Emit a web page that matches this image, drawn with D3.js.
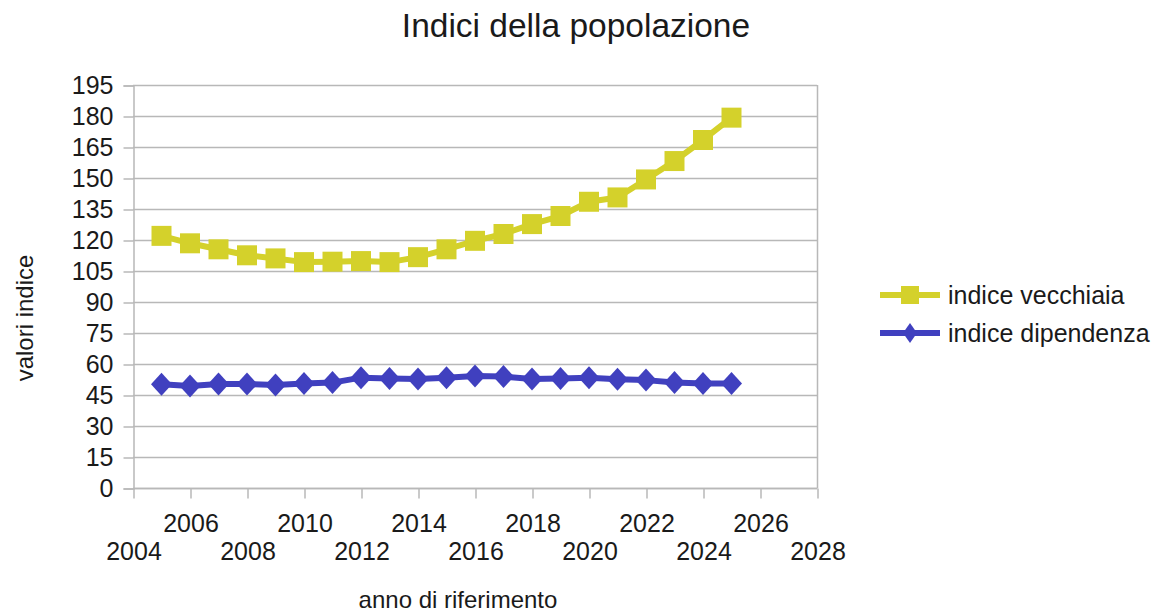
<!DOCTYPE html>
<html>
<head>
<meta charset="utf-8">
<script src="https://cdn.jsdelivr.net/npm/d3@7"></script>
<style>
  html, body { margin: 0; padding: 0; background: #fff; }
  svg { display: block; font-family: "Liberation Sans", Arial, sans-serif; }
</style>
</head>
<body>
<div id="chart"></div>
<script>
// Indici della popolazione: vecchiaia vs dipendenza, 2005-2025.

const years = d3.range(2005, 2026);
const vecchiaia = [122, 118.4, 115.5, 112.6, 111.1, 109.3, 109.5, 109.8, 109.3, 111.7,
  115.5, 119.6, 122.9, 127.7, 131.6, 138.5, 140.6, 149.3, 158.2, 168.4, 179.2];
const dipendenza = [50.2, 49.3, 50.3, 50.3, 49.8, 50.6, 51, 53.4, 53, 52.8,
  53.4, 54.2, 53.9, 52.7, 53, 53.4, 52.6, 52.2, 51, 50.6, 50.6];
const xTicks = d3.range(2004, 2029, 2);
const yTicks = d3.range(0, 196, 15);

const series = [
  { name: "indice vecchiaia", values: vecchiaia, color: "#d4d12b", marker: "square" },
  { name: "indice dipendenza", values: dipendenza, color: "#4040bf", marker: "diamond" },
];

const W = 1164, H = 613;
const M = { top: 85, right: 347, bottom: 125, left: 133 };
const GRID = "#b8b8b8";
const INK = "#1a1a1a";
const FONT = "25px";

const x = d3.scaleLinear().domain([2004, 2028]).range([M.left, W - M.right]);
const y = d3.scaleLinear().domain([0, 195]).range([H - M.bottom, M.top]);

const svg = d3.select("#chart").append("svg").attr("width", W).attr("height", H);

// marker shapes
const square = (s) => `M${-s / 2},${-s / 2}h${s}v${s}h${-s}Z`;
const diamond = (w, h) => `M0,${-h / 2}L${w / 2},0L0,${h / 2}L${-w / 2},0Z`;
const markerPath = (m, legend) =>
  m === "square" ? square(legend ? 18 : 20) : legend ? diamond(14, 20) : diamond(21, 23);

// horizontal grid
svg.append("g")
  .selectAll("line")
  .data(yTicks)
  .join("line")
  .attr("x1", M.left).attr("x2", W - M.right)
  .attr("y1", (d) => y(d) + 0.5).attr("y2", (d) => y(d) + 0.5)
  .attr("stroke", GRID).attr("stroke-width", 1.5);

// right border
svg.append("line")
  .attr("x1", W - M.right + 0.5).attr("x2", W - M.right + 0.5)
  .attr("y1", M.top).attr("y2", H - M.bottom)
  .attr("stroke", GRID).attr("stroke-width", 1.5);

// y axis
svg.append("g")
  .attr("transform", `translate(${M.left + 0.5},0.5)`)
  .call(d3.axisLeft(y).tickValues(yTicks).tickSize(10).tickPadding(10))
  .call((g) => g.select(".domain").attr("stroke", GRID).attr("stroke-width", 1.5))
  .call((g) => g.selectAll(".tick line").attr("stroke", GRID).attr("stroke-width", 1.5))
  .call((g) => g.selectAll(".tick text")
    .attr("fill", INK).style("font-size", FONT).style("font-family", "Liberation Sans, Arial, sans-serif"));

// x axis with staggered labels
svg.append("g")
  .attr("transform", `translate(0.5,${H - M.bottom + 0.5})`)
  .call(d3.axisBottom(x).tickValues(xTicks).tickFormat(d3.format("d")).tickSize(10))
  .call((g) => g.select(".domain").attr("stroke", GRID).attr("stroke-width", 1.5).attr("d", `M${M.left},0H${W - M.right}`))
  .call((g) => g.selectAll(".tick line").attr("stroke", GRID).attr("stroke-width", 1.5))
  .call((g) => g.selectAll(".tick text")
    .attr("fill", INK).style("font-size", FONT).style("font-family", "Liberation Sans, Arial, sans-serif")
    .attr("dy", null)
    .attr("y", (d, i) => (i % 2 === 0 ? 71 : 43)));

// lines and markers
const line = d3.line().x((d, i) => x(years[i])).y((d) => y(d));

series.forEach((s) => {
  svg.append("path")
    .datum(s.values)
    .attr("d", line)
    .attr("fill", "none")
    .attr("stroke", s.color)
    .attr("stroke-width", 6)
    .attr("stroke-linejoin", "round");

  svg.append("g")
    .selectAll("path")
    .data(s.values)
    .join("path")
    .attr("transform", (d, i) => `translate(${x(years[i])},${y(d)})`)
    .attr("d", markerPath(s.marker, false))
    .attr("fill", s.color);
});

// legend
const legend = svg.append("g").attr("transform", "translate(880,295)");
series.forEach((s, i) => {
  const g = legend.append("g").attr("transform", `translate(0,${i * 38})`);
  g.append("line").attr("x1", 0).attr("x2", 60).attr("y1", 0).attr("y2", 0)
    .attr("stroke", s.color).attr("stroke-width", 6);
  g.append("path")
    .attr("transform", "translate(30,0)")
    .attr("d", markerPath(s.marker, true))
    .attr("fill", s.color);
  g.append("text").attr("x", 68).attr("y", 0).attr("dy", "0.35em")
    .attr("fill", INK).style("font-size", FONT).text(s.name);
});

// titles
svg.append("text")
  .attr("x", 576).attr("y", 37)
  .attr("text-anchor", "middle")
  .attr("fill", INK).style("font-size", "33.5px")
  .text("Indici della popolazione");

svg.append("text")
  .attr("transform", "translate(33,318) rotate(-90)")
  .attr("text-anchor", "middle")
  .attr("fill", INK).style("font-size", "24px")
  .text("valori indice");

svg.append("text")
  .attr("x", 458).attr("y", 608)
  .attr("text-anchor", "middle")
  .attr("fill", INK).style("font-size", "24px")
  .text("anno di riferimento");
</script>
</body>
</html>
